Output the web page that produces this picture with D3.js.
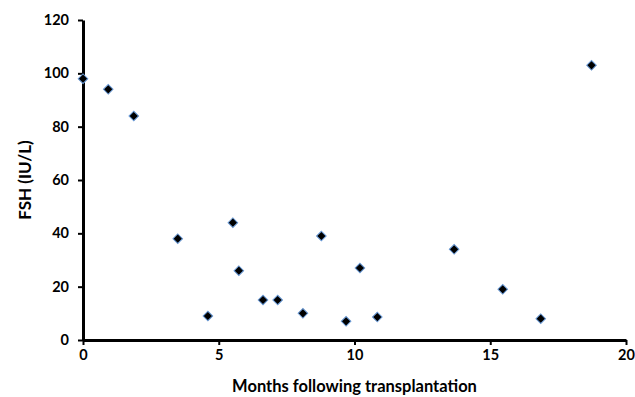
<!DOCTYPE html>
<html>
<head>
<meta charset="utf-8">
<script src="https://cdn.jsdelivr.net/npm/d3@7"></script>
<style>
  body { margin: 0; background: #fff; }
  text { font-family: Lato, "Open Sans", sans-serif; font-weight: bold; fill: #000; }
</style>
</head>
<body>
<script>
// months after transplant / FSH level
var months = [0, 0.93, 1.87, 3.49, 4.6, 5.52, 5.74, 6.63, 7.17, 8.1, 8.78, 9.69, 10.2, 10.84, 13.67, 15.46, 16.86, 18.73];
var fsh = [98, 94, 84, 38, 9, 44, 26, 15, 15, 10, 39, 7, 27, 8.6, 34, 19, 8, 103];
var xTicks = [0, 5, 10, 15, 20];
var yTicks = [0, 20, 40, 60, 80, 100, 120];

var W = 635, H = 397;
var m = { left: 83, right: 9, top: 20, bottom: 57 };

var svg = d3.select("body").append("svg")
    .attr("width", W)
    .attr("height", H);

var x = d3.scaleLinear().domain([0, 20]).range([m.left, W - m.right]);
var y = d3.scaleLinear().domain([0, 120]).range([H - m.bottom, m.top]);

var xAxis = svg.append("g")
    .attr("transform", "translate(0," + y(0) + ")")
    .call(d3.axisBottom(x).tickValues(xTicks).tickSize(5).tickSizeOuter(0).tickPadding(5));
var yAxis = svg.append("g")
    .attr("transform", "translate(" + x(0) + ",0)")
    .call(d3.axisLeft(y).tickValues(yTicks).tickSize(5).tickSizeOuter(0).tickPadding(9));

[xAxis, yAxis].forEach(function (g) {
    g.select(".domain").attr("stroke", "#000").attr("stroke-width", 3);
    g.selectAll(".tick line").attr("stroke", "#000").attr("stroke-width", 2);
    g.selectAll(".tick text").style("font-size", "14.5px").attr("fill", "#000");
});

// diamonds
svg.append("g").selectAll("path")
    .data(months)
    .enter().append("path")
    .attr("d", d3.symbol().type(d3.symbolSquare).size(46))
    .attr("transform", function (d, i) {
        return "translate(" + x(d) + "," + y(fsh[i]) + ") rotate(45)";
    })
    .attr("fill", "#000")
    .attr("stroke", "#6a9ad6")
    .attr("stroke-width", 1);

svg.append("text")
    .attr("x", (x(0) + x(20)) / 2)
    .attr("y", 392)
    .attr("text-anchor", "middle")
    .style("font-size", "16.5px")
    .text("Months following transplantation");

svg.append("text")
    .attr("transform", "translate(31," + y(60) + ") rotate(-90)")
    .attr("text-anchor", "middle")
    .style("font-size", "17px")
    .text("FSH (IU/L)");
</script>
</body>
</html>
